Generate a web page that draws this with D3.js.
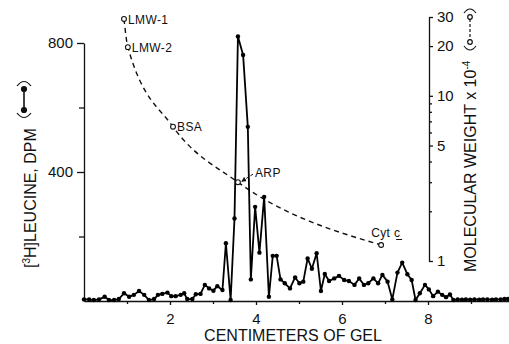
<!DOCTYPE html>
<html>
<head>
<meta charset="utf-8">
<script src="https://d3js.org/d3.v7.min.js"></script>
<style>
  body { margin: 0; background: #fff; }
  svg { display: block; font-family: "Liberation Sans", Arial, sans-serif; }
  .axis path, .axis line { stroke: #111; stroke-width: 1.3; }
  .axis text { font-size: 15px; fill: #111; font-family: "Liberation Sans", Arial, sans-serif; }
  .lbl { font-size: 12px; fill: #111; letter-spacing: 0.4px; }
  .title { font-size: 16px; fill: #111; }
</style>
</head>
<body>
<div id="chart"></div>
<script>
// gel slices: distance (cm) and [3H]leucine counts
const gelCm = [0.00,0.12,0.23,0.35,0.48,0.58,0.70,0.81,0.93,1.05,1.16,1.28,1.40,1.51,1.63,1.72,1.82,1.94,2.03,2.13,
  2.25,2.33,2.40,2.52,2.60,2.71,2.81,2.91,3.01,3.10,3.22,3.30,3.41,
  3.50,3.58,3.70,3.81,3.88,3.98,4.08,4.19,4.30,4.39,4.48,4.57,4.67,4.79,4.91,5.01,5.10,5.20,5.30,
  5.41,5.51,5.60,5.70,5.82,5.93,6.05,6.16,6.29,6.40,6.51,6.61,6.73,6.84,6.94,7.06,7.17,7.29,7.40,7.52,
  7.62,7.71,7.81,7.93,8.02,8.12,8.23,8.33,8.42,8.51,8.59,8.69,8.79,8.88,8.98,9.08,9.19,9.28,9.38,9.49,
  9.58,9.69,9.78,9.86];
const dpm = [5,5,3,5,13,3,3,6,24,13,19,31,19,3,6,19,22,26,15,15,
  19,24,6,6,21,22,50,39,32,46,34,179,3,
  256,820,763,540,67,292,150,323,13,140,140,67,55,39,73,55,60,132,100,
  148,31,84,62,70,78,65,62,50,70,50,55,70,55,81,60,5,88,119,83,
  65,3,24,50,36,15,29,19,12,20,3,5,4,5,4,5,4,5,5,4,
  5,5,6,6];

// molecular weight standards (x 10^-4)
const stdNames = ["LMW-1", "LMW-2", "BSA", "ARP", "Cyt c"];
const stdCm = [0.93, 1.02, 2.07, 3.58, 6.91];
const stdMW = [29.2, 19.7, 6.5, 3.0, 1.25];

const xTicks = [2, 4, 6, 8];
const xMinor = [1, 3, 5, 7, 9];
const dpmTicks = [400, 800];
const dpmMinor = [200, 600];
const mwTicks = [1, 5, 10, 20, 30];
const mwMinor = [2, 3, 4, 6, 7, 8, 9];

const width = 509, height = 344;

const svg = d3.select("#chart").append("svg")
  .attr("width", width).attr("height", height);

const x = d3.scaleLinear().domain([0, 10]).range([84, 514]);
const yL = d3.scaleLinear().domain([0, 800]).range([301, 43]);
const yR = d3.scaleLog().domain([1, 30]).range([261, 17]);

// axes
const gx = svg.append("g").attr("class", "axis").attr("transform", "translate(0,301)");
gx.call(d3.axisBottom(x).tickValues(xTicks).tickSize(4).tickSizeOuter(0).tickPadding(8));
gx.append("g").call(d3.axisBottom(x).tickValues(xMinor).tickSize(3).tickFormat(""))
  .select(".domain").remove();

const gl = svg.append("g").attr("class", "axis").attr("transform", "translate(84,0)");
gl.call(d3.axisLeft(yL).tickValues(dpmTicks).tickSize(7).tickSizeOuter(0).tickPadding(4));
gl.append("g").call(d3.axisLeft(yL).tickValues(dpmMinor).tickSize(5).tickFormat(""))
  .select(".domain").remove();

const gr = svg.append("g").attr("class", "axis").attr("transform", "translate(429,0)");
gr.call(d3.axisRight(yR).tickValues(mwTicks).tickFormat(d3.format("d")).tickSize(4).tickSizeOuter(0).tickPadding(4));
gr.append("g").call(d3.axisRight(yR).tickValues(mwMinor).tickSize(3).tickFormat(""))
  .select(".domain").remove();
svg.selectAll(".axis .domain").attr("fill", "none");

// molecular weight calibration curve
const stds = stdNames.map((n, i) => ({ name: n, cm: stdCm[i], mw: stdMW[i] }));
svg.append("path")
  .datum(stds)
  .attr("fill", "none")
  .attr("stroke", "#111")
  .attr("stroke-width", 1.4)
  .attr("stroke-dasharray", "5,4")
  .attr("d", d3.line().curve(d3.curveMonotoneX).x(d => x(d.cm)).y(d => yR(d.mw)));

// leucine profile
const pts = gelCm.map((c, i) => ({ cm: c, v: dpm[i] }));
svg.append("path")
  .datum(pts)
  .attr("fill", "none")
  .attr("stroke", "#000")
  .attr("stroke-width", 1.8)
  .attr("stroke-linejoin", "round")
  .attr("d", d3.line().x(d => x(d.cm)).y(d => yL(d.v)));
svg.selectAll(".dot").data(pts).join("circle")
  .attr("class", "dot")
  .attr("cx", d => x(d.cm)).attr("cy", d => yL(d.v))
  .attr("r", 2.2).attr("fill", "#000");

// standard markers + labels
svg.selectAll(".std").data(stds).join("circle")
  .attr("class", "std")
  .attr("cx", d => x(d.cm)).attr("cy", d => yR(d.mw))
  .attr("r", 2.4).attr("fill", "#fff").attr("stroke", "#111").attr("stroke-width", 1.1);

const off = { "LMW-1": [4, 5], "LMW-2": [4, 5], "BSA": [4, 4], "ARP": [17, -5], "Cyt c": [-10, -8] };
svg.selectAll(".stdlbl").data(stds).join("text")
  .attr("class", "lbl")
  .attr("x", d => x(d.cm) + off[d.name][0])
  .attr("y", d => yR(d.mw) + off[d.name][1])
  .text(d => d.name);

// ARP arrow
const arp = stds[3];
svg.append("defs").append("marker")
  .attr("id", "ah").attr("viewBox", "0 0 6 6").attr("refX", 5).attr("refY", 3)
  .attr("markerWidth", 5).attr("markerHeight", 5).attr("orient", "auto")
  .append("path").attr("d", "M0,0L6,3L0,6Z").attr("fill", "#111");
svg.append("line")
  .attr("x1", x(arp.cm) + 15).attr("y1", yR(arp.mw) - 8)
  .attr("x2", x(arp.cm) + 4).attr("y2", yR(arp.mw) - 1)
  .attr("stroke", "#111").attr("stroke-width", 1).attr("stroke-dasharray", "3,2")
  .attr("marker-end", "url(#ah)");
// underline on the c of Cyt c
const cyt = stds[4];
svg.append("line")
  .attr("x1", x(cyt.cm) + 15).attr("x2", x(cyt.cm) + 21)
  .attr("y1", yR(cyt.mw) - 5.5).attr("y2", yR(cyt.mw) - 5.5)
  .attr("stroke", "#111").attr("stroke-width", 1);

// axis titles
svg.append("text").attr("class", "title")
  .attr("x", 293).attr("y", 341).attr("text-anchor", "middle")
  .text("CENTIMETERS OF GEL");

const lt = svg.append("text").attr("class", "title")
  .attr("transform", "translate(36,268) rotate(-90)");
lt.append("tspan").text("[");
lt.append("tspan").attr("font-size", 10).attr("dy", -6).text("3");
lt.append("tspan").attr("dy", 6).text("H]LEUCINE, DPM");

// left legend (filled dot line) in brackets
const ll = svg.append("g").attr("stroke", "#111").attr("fill", "none").attr("stroke-width", 1.2);
ll.append("path").attr("d", "M17,86 Q24,77 31,86");
ll.append("path").attr("d", "M17,113 Q24,122 31,113");
ll.append("line").attr("x1", 24).attr("x2", 24).attr("y1", 89).attr("y2", 110).attr("stroke-width", 1.6);
ll.selectAll("circle").data([89, 110]).join("circle")
  .attr("cx", 24).attr("cy", d => d).attr("r", 2.5).attr("fill", "#111");

const rt = svg.append("text").attr("class", "title")
  .attr("transform", "translate(476,272) rotate(-90)");
rt.append("tspan").text("MOLECULAR WEIGHT x 10");
rt.append("tspan").attr("font-size", 10).attr("dy", -6).text("-4");

// right legend (open circle dashed line) in brackets
const rl = svg.append("g").attr("stroke", "#111").attr("fill", "none").attr("stroke-width", 1.2);
rl.append("path").attr("d", "M464,13 Q470,5 476,13");
rl.append("path").attr("d", "M464,46 Q470,54 476,46");
rl.append("line").attr("x1", 470).attr("x2", 470).attr("y1", 19).attr("y2", 40).attr("stroke-dasharray", "3,2");
rl.selectAll("circle").data([17, 42]).join("circle")
  .attr("cx", 470).attr("cy", d => d).attr("r", 2.3).attr("fill", "#fff");
</script>
</body>
</html>
